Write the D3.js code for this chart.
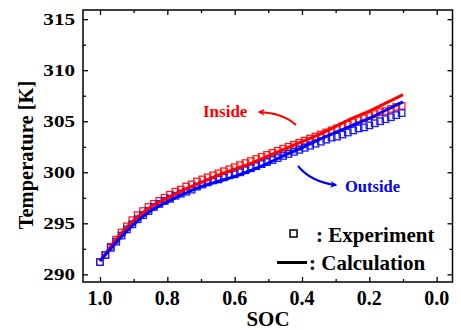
<!DOCTYPE html>
<html><head><meta charset="utf-8">
<script src="https://cdn.jsdelivr.net/npm/d3@7"></script>
<style>
html,body{margin:0;padding:0;background:#fff;}
svg{display:block;}
</style></head>
<body><svg id="c" width="461" height="330"></svg>
<script>
// ---- data ----
const expSoc = [1.000,0.984,0.968,0.952,0.936,0.920,0.904,0.888,0.872,0.856,0.840,0.824,0.808,0.792,0.776,0.760,0.744,0.728,0.712,0.696,0.680,0.664,0.648,0.632,0.616,0.600,0.584,0.568,0.552,0.536,0.520,0.504,0.488,0.472,0.456,0.440,0.424,0.408,0.392,0.376,0.360,0.344,0.328,0.312,0.296,0.280,0.264,0.248,0.232,0.216,0.200,0.184,0.168,0.152,0.136,0.120,0.104];
const expInside = [291.2,291.9,292.7,293.4,294.1,294.7,295.3,295.8,296.2,296.6,296.9,297.2,297.5,297.8,298.1,298.3,298.6,298.8,299.1,299.3,299.5,299.7,299.9,300.1,300.3,300.5,300.7,300.9,301.1,301.3,301.5,301.7,301.9,302.1,302.3,302.5,302.7,302.9,303.1,303.3,303.5,303.7,303.9,304.1,304.3,304.5,304.7,304.9,305.1,305.3,305.5,305.7,305.9,306.0,306.2,306.4,306.5];
const expOutside = [291.2,291.9,292.6,293.2,293.8,294.4,294.9,295.4,295.8,296.2,296.6,296.9,297.2,297.4,297.7,297.9,298.1,298.3,298.6,298.8,299.0,299.2,299.3,299.5,299.7,299.8,300.0,300.2,300.4,300.6,300.8,301.0,301.2,301.4,301.6,301.8,302.0,302.2,302.4,302.6,302.8,303.0,303.2,303.4,303.5,303.7,303.9,304.1,304.3,304.4,304.6,304.8,305.0,305.2,305.4,305.6,305.8];
const calcSoc = [1.00,0.95,0.90,0.85,0.80,0.75,0.70,0.65,0.60,0.55,0.50,0.45,0.40,0.35,0.30,0.25,0.20,0.15,0.10];
const calcInside = [291.3,293.5,295.3,296.6,297.5,298.3,299.0,299.7,300.3,300.9,301.6,302.3,303.0,303.7,304.5,305.3,306.0,306.8,307.6];
const calcOutside = [291.3,293.2,294.9,296.2,297.1,297.9,298.6,299.1,299.6,300.2,300.9,301.7,302.4,303.2,303.9,304.6,305.3,306.1,306.9];
const xMajor = [1.0,0.8,0.6,0.4,0.2,0.0];
const xMinor = [0.9,0.7,0.5,0.3,0.1];
const yMajor = [290,295,300,305,310,315];
const yMinor = [292.5,297.5,302.5,307.5,312.5];

// ---- layout ----
const FONT = "'Liberation Serif', 'Times New Roman', Times, 'DejaVu Serif', serif";
const svg = d3.select("#c");
const L=83, R=452.5, T=10, B=282;
const x = d3.scaleLinear().domain([1.0505,-0.047]).range([L,R]);
const y = d3.scaleLinear().domain([289.25,315.9]).range([B,T]);

function ticks(axisFn, scale, vals, size, tr){
  const g = svg.append("g").attr("transform",tr)
    .call(axisFn(scale).tickValues(vals).tickSize(size).tickFormat(""));
  g.select(".domain").remove();
  g.selectAll("line").attr("stroke","#000").attr("stroke-width",1.3);
  return g;
}
ticks(d3.axisBottom,x,xMajor,-5,`translate(0,${B})`);
ticks(d3.axisBottom,x,xMinor,-3,`translate(0,${B})`);
ticks(d3.axisTop,x,xMajor,-5,`translate(0,${T})`);
ticks(d3.axisTop,x,xMinor,-3,`translate(0,${T})`);
ticks(d3.axisLeft,y,yMajor,-5,`translate(${L},0)`);
ticks(d3.axisLeft,y,yMinor,-3,`translate(${L},0)`);
ticks(d3.axisRight,y,yMajor,-5,`translate(${R},0)`);
ticks(d3.axisRight,y,yMinor,-3,`translate(${R},0)`);

// tick labels
svg.append("g").selectAll("text").data(xMajor).join("text")
  .attr("x",d=>x(d)).attr("y",305).attr("text-anchor","middle")
  .attr("font-size",20).text(d=>d3.format(".1f")(d));
svg.append("g").selectAll("text").data(yMajor).join("text")
  .attr("text-anchor","end").attr("font-size",16.5)
  .attr("transform",d=>`translate(75,${y(d)+5.5}) scale(1.28,1)`).text(d=>d);

// axis titles
svg.append("text").attr("x",268).attr("y",326).attr("text-anchor","middle")
  .attr("font-size",21).text("SOC");
svg.append("text").attr("transform","translate(33,155) rotate(-90)")
  .attr("text-anchor","middle").attr("font-size",20.5).text("Temperature [K]");

// data
const clip = svg.append("clipPath").attr("id","clp").append("rect")
  .attr("x",L).attr("y",T).attr("width",R-L).attr("height",B-T);
const plot = svg.append("g").attr("clip-path","url(#clp)");
const sq = 6.5;
function squares(vals,color){
  plot.append("g").selectAll("rect").data(expSoc).join("rect")
    .attr("x",(d)=>x(d)-sq/2).attr("y",(d,i)=>y(vals[i])-sq/2)
    .attr("width",sq).attr("height",sq)
    .attr("fill","none").attr("stroke",color).attr("stroke-width",1.3);
}
squares(expInside,"#ff1a1a");
squares(expOutside,"#1a1aff");
const line = vals => d3.line().x(d=>x(d)).y((d,i)=>y(vals[i])).curve(d3.curveCatmullRom)(calcSoc);
plot.append("path").attr("d",line(calcInside)).attr("fill","none").attr("stroke","#ff0000").attr("stroke-width",3);
plot.append("path").attr("d",line(calcOutside)).attr("fill","none").attr("stroke","#0000ff").attr("stroke-width",3);

// frame
svg.append("rect").attr("x",L).attr("y",T).attr("width",R-L).attr("height",B-T)
  .attr("fill","none").attr("stroke","#000").attr("stroke-width",1.5);

// annotations
const defs = svg.append("defs");
[["ar","#ff0000"],["ab","#0000ff"]].forEach(([id,c])=>{
  defs.append("marker").attr("id",id).attr("viewBox","0 0 10 10").attr("refX",8).attr("refY",5)
    .attr("markerWidth",9).attr("markerHeight",7).attr("markerUnits","userSpaceOnUse")
    .attr("orient","auto").append("path").attr("d","M0,0 L10,5 L0,10 L3,5 Z").attr("fill",c);
});
svg.append("path").attr("d","M296,125 Q283,113 259,112").attr("fill","none")
  .attr("stroke","#ff0000").attr("stroke-width",2).attr("marker-end","url(#ar)");
svg.append("path").attr("d","M298,166 Q311,182 336,185").attr("fill","none")
  .attr("stroke","#0000ff").attr("stroke-width",2).attr("marker-end","url(#ab)");
svg.append("text").attr("x",203).attr("y",117).attr("font-size",17).attr("fill","#ff0000").text("Inside");
svg.append("text").attr("x",345).attr("y",192).attr("font-size",16.5).attr("fill","#0000ff").text("Outside");

// legend
svg.append("rect").attr("x",290).attr("y",230).attr("width",7).attr("height",7)
  .attr("fill","none").attr("stroke","#000").attr("stroke-width",1.5);
svg.append("text").attr("x",316).attr("y",241.5).attr("font-size",21).text(": Experiment");
svg.append("line").attr("x1",277).attr("x2",307).attr("y1",262.5).attr("y2",262.5)
  .attr("stroke","#000").attr("stroke-width",3);
svg.append("text").attr("x",309).attr("y",270).attr("font-size",21).text(": Calculation");

svg.selectAll("text").attr("font-family",FONT).attr("font-weight","bold");
</script></body></html>
